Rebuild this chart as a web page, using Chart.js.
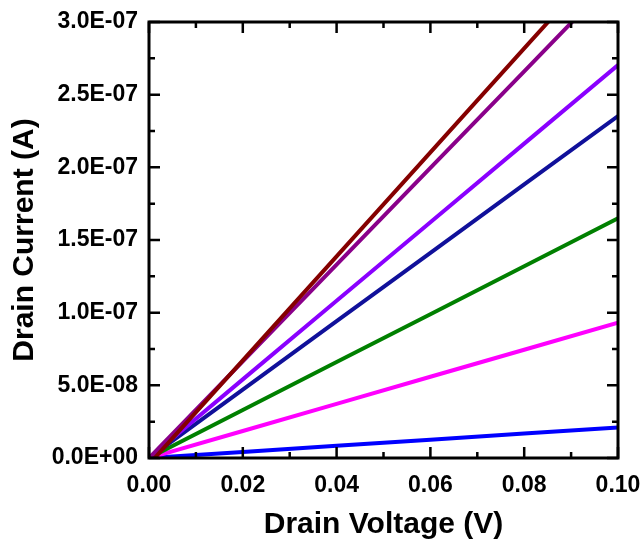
<!DOCTYPE html>
<html>
<head>
<meta charset="utf-8">
<script src="https://cdn.jsdelivr.net/npm/chart.js@4"></script>
<style>
  body { margin: 0; background: #fff; }
  #dibujo { width: 644px; height: 543px; }
</style>
</head>
<body>
<div id="dibujo"><canvas id="myChart"></canvas></div>
<script>
// drain voltage (V)
var voltaje = [0, 0.02, 0.04, 0.06, 0.08, 0.10];
// drain current (A), one curve each
var curvaRojo    = [-4.3e-9, 6.72e-8, 1.387e-7, 2.103e-7, 2.818e-7, 3.533e-7];
var curvaMorado  = [0, 6.65e-8, 1.330e-7, 1.996e-7, 2.661e-7, 3.326e-7];
var curvaViolet  = [0, 5.41e-8, 1.082e-7, 1.622e-7, 2.163e-7, 2.704e-7];
var curvaAzulOsc = [0, 4.71e-8, 9.41e-8, 1.412e-7, 1.882e-7, 2.353e-7];
var curvaVerde   = [0, 3.30e-8, 6.60e-8, 9.89e-8, 1.319e-7, 1.649e-7];
var curvaMagenta = [0, 1.86e-8, 3.72e-8, 5.59e-8, 7.45e-8, 9.31e-8];
var curvaAzul    = [0, 0.42e-8, 0.84e-8, 1.26e-8, 1.68e-8, 2.10e-8];

var xTicks = [0, 0.02, 0.04, 0.06, 0.08, 0.10];
var yTicks = [0, 0.5e-7, 1.0e-7, 1.5e-7, 2.0e-7, 2.5e-7, 3.0e-7];

function puntos(ys){
    var p = [];
    for (var i = 0; i < voltaje.length; i++) p.push({x: voltaje[i], y: ys[i]});
    return p;
}
function serie(ys, color){
    return {data: puntos(ys), borderColor: color, backgroundColor: color,
            borderWidth: 4, pointRadius: 0, fill: false, tension: 0};
}
function expo(v){
    if (v === 0) return '0.0E+00';
    var e = Math.floor(Math.log10(Math.abs(v)) + 1e-9);
    var m = v / Math.pow(10, e);
    var s = e < 0 ? '-' : '+';
    var a = Math.abs(e);
    return m.toFixed(1) + 'E' + s + (a < 10 ? '0' + a : a);
}

// frame + ticks pointing inwards on all four sides
var marco = {
    id: 'marco',
    afterDraw: function(chart){
        var c = chart.ctx, a = chart.chartArea;
        var sx = chart.scales.x, sy = chart.scales.y;
        c.save();
        c.strokeStyle = '#000';
        c.lineWidth = 3;
        c.strokeRect(a.left, a.top, a.right - a.left, a.bottom - a.top);
        c.lineWidth = 2.5;
        c.beginPath();
        for (var i = 0; i < xTicks.length; i++){
            var px = sx.getPixelForValue(xTicks[i]);
            c.moveTo(px, a.bottom); c.lineTo(px, a.bottom - 11);
            c.moveTo(px, a.top); c.lineTo(px, a.top + 11);
            if (i < xTicks.length - 1){
                var pm = sx.getPixelForValue((xTicks[i] + xTicks[i+1]) / 2);
                c.moveTo(pm, a.bottom); c.lineTo(pm, a.bottom - 6);
                c.moveTo(pm, a.top); c.lineTo(pm, a.top + 6);
            }
        }
        for (var j = 0; j < yTicks.length; j++){
            var py = sy.getPixelForValue(yTicks[j]);
            c.moveTo(a.left, py); c.lineTo(a.left + 11, py);
            c.moveTo(a.right, py); c.lineTo(a.right - 11, py);
            if (j < yTicks.length - 1){
                var qm = sy.getPixelForValue((yTicks[j] + yTicks[j+1]) / 2);
                c.moveTo(a.left, qm); c.lineTo(a.left + 6, qm);
                c.moveTo(a.right, qm); c.lineTo(a.right - 6, qm);
            }
        }
        c.stroke();
        c.restore();
    }
};

var ctx = document.getElementById('myChart').getContext('2d');
var chart = new Chart(ctx, {
    type: 'line',
    data: {
        datasets: [
            serie(curvaRojo, '#850000'),
            serie(curvaMorado, '#8a008a'),
            serie(curvaViolet, '#8a00ff'),
            serie(curvaAzulOsc, '#10109a'),
            serie(curvaVerde, '#008000'),
            serie(curvaMagenta, '#ff00ff'),
            serie(curvaAzul, '#0000ff')
        ]
    },
    options: {
        responsive: true,
        maintainAspectRatio: false,
        animation: false,
        layout: {padding: {top: 22, right: 26, left: 0, bottom: 0}},
        plugins: {legend: {display: false}, tooltip: {enabled: false}},
        scales: {
            x: {
                type: 'linear', min: 0, max: 0.10,
                afterFit: function(s){ s.height = 85; s.paddingLeft = 0; s.paddingRight = 0; },
                afterBuildTicks: function(s){ s.ticks = xTicks.map(function(v){ return {value: v}; }); },
                grid: {display: false, drawTicks: false},
                border: {display: false},
                ticks: {
                    padding: 14, color: '#000', maxRotation: 0,
                    font: {family: 'Liberation Sans, Arial', size: 23, weight: 'bold'},
                    callback: function(v){ return v.toFixed(2); }
                },
                title: {
                    display: true, text: 'Drain Voltage (V)', color: '#000',
                    font: {family: 'Liberation Sans, Arial', size: 30, weight: 'bold'},
                    padding: {top: 0, bottom: 0}
                }
            },
            y: {
                type: 'linear', min: 0, max: 3e-7,
                afterFit: function(s){ s.width = 149; s.paddingTop = 0; s.paddingBottom = 0; },
                afterBuildTicks: function(s){ s.ticks = yTicks.map(function(v){ return {value: v}; }); },
                grid: {display: false, drawTicks: false},
                border: {display: false},
                ticks: {
                    padding: 11, color: '#000',
                    font: {family: 'Liberation Sans, Arial', size: 23, weight: 'bold'},
                    callback: function(v){ return expo(v); }
                },
                title: {
                    display: true, text: 'Drain Current (A)', color: '#000',
                    font: {family: 'Liberation Sans, Arial', size: 30, weight: 'bold'},
                    padding: {top: 7, bottom: 0}
                }
            }
        }
    },
    plugins: [marco]
});
</script>
</body>
</html>
